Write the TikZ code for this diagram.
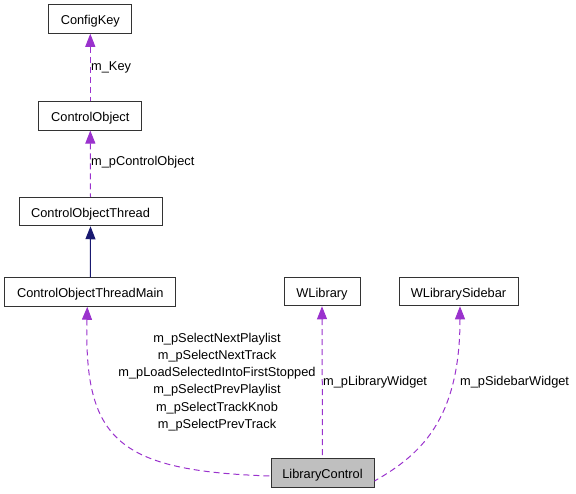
\documentclass[tikz,border=0pt]{standalone}
\usepackage{fontspec}
\setmainfont{Liberation Sans}
\usetikzlibrary{arrows.meta}
\definecolor{dep}{HTML}{9A32CD}
\definecolor{inh}{HTML}{191970}
\definecolor{bord}{HTML}{333333}
\begin{document}
\begin{tikzpicture}[x=1pt,y=-1pt,
  cls/.style={draw=bord,line width=1pt,fill=white,inner sep=0pt,minimum height=28.5pt,text height=11pt,text depth=0pt,font=\fontsize{12.8}{14}\selectfont},
  deplink/.style={draw=dep,line width=1pt,dash pattern=on 6pt off 4pt,{Triangle[length=13pt,width=10pt,fill=dep]}-},
  inhlink/.style={draw=inh,line width=1pt,{Triangle[length=13pt,width=10pt,fill=inh]}-},
  lbl/.style={font=\fontsize{12.8}{17.3}\selectfont,inner sep=0pt}]
\useasboundingbox (0,0) rectangle (576,493);
\node[cls,minimum width=82.7pt] (CK) at (90.3,19) {ConfigKey};
\node[cls,minimum width=102.7pt] (CO) at (90.3,115.8) {ControlObject};
\node[cls,minimum width=143pt] (COT) at (90.5,211.5) {ControlObjectThread};
\node[cls,minimum width=171.3pt] (COTM) at (90.3,292) {ControlObjectThreadMain};
\node[cls,minimum width=76pt] (WL) at (322,291.5) {WLibrary};
\node[cls,minimum width=119pt] (WLS) at (458.5,291.5) {WLibrarySidebar};
\node[cls,minimum width=103pt,fill={rgb,255:red,191;green,191;blue,191}] (LC) at (322.5,473) {LibraryControl};

\draw[deplink] (CK.south) -- (CO.north);
\draw[deplink] (CO.south) -- (COT.north);
\draw[inhlink] (COT.south) -- (COTM.north);
\draw[deplink] ([xshift=-3pt]COTM.south) .. controls (84,440) and (118,471) .. ([yshift=-3pt]LC.west);
\draw[deplink] (WL.south) -- (LC.north);
\draw[deplink] ([xshift=1.5pt]WLS.south) .. controls (460,420) and (420,455) .. ([yshift=-8pt]LC.east);

\node[lbl,anchor=west] (l1) at (91,67.5) {m\_Key};
\node[lbl,anchor=west] (l2) at (91,162.5) {m\_pControlObject};
\node[lbl,align=center] (l3) at (217,382) {m\_pSelectNextPlaylist\\m\_pSelectNextTrack\\m\_pLoadSelectedIntoFirstStopped\\m\_pSelectPrevPlaylist\\m\_pSelectTrackKnob\\m\_pSelectPrevTrack};
\node[lbl,anchor=west] (l4) at (323,382.5) {m\_pLibraryWidget};
\node[lbl,anchor=west] (l5) at (460,382.5) {m\_pSidebarWidget};
\end{tikzpicture}
\end{document}
